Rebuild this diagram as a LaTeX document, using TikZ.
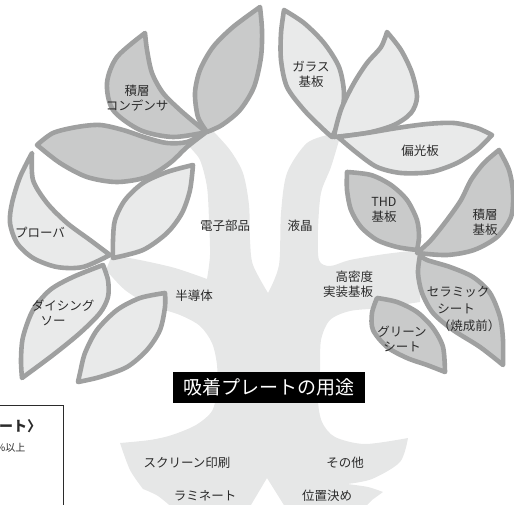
\documentclass[tikz,border=0pt]{standalone}
\usepackage{fontspec}
\setmainfont{Noto Sans CJK JP}
\definecolor{trunkgray}{HTML}{E6E7E7}
\definecolor{leaflight}{HTML}{E9EAEA}
\definecolor{leafdark}{HTML}{C9CACA}
\definecolor{leafedge}{HTML}{9FA0A0}
\definecolor{labelink}{HTML}{2B2B2B}
\begin{document}
\begin{tikzpicture}[x=1pt,y=-1pt,
  leafbase/.style={draw=leafedge, line width=4.6pt, line join=round},
  lightleaf/.style={leafbase, fill=leaflight},
  darkleaf/.style={leafbase, fill=leafdark},
  lbl/.style={text=labelink, align=center, inner sep=0pt,
    font=\fontsize{12.5}{15}\selectfont},
  title/.style={fill=black, text=white, inner sep=0pt,
    minimum width=192pt, minimum height=31pt,
    font=\fontsize{19}{22}\selectfont}]
\useasboundingbox (0,0) rectangle (514,505);
\clip (0,0) rectangle (514,505);

% ---- trunk, branches and roots ----
\fill[trunkgray]
  plot[smooth] coordinates {(213,131) (230,150) (243,173) (249,205) (250,240) (253,265) (268,293)}
  -- plot[smooth] coordinates {(268,293) (279,265) (281,213) (287,173) (307,143) (332,134)}
  -- plot[smooth] coordinates {(340,137) (331,167) (321,193) (318,230) (319,260) (330,266) (350,260) (385,254) (420,250)}
  -- (420,302)
  -- plot[smooth] coordinates {(420,302) (380,308) (350,311) (330,320) (321,340) (320,370) (318,400) (322,422) (335,437) (365,444) (408,438)}
  -- plot[smooth] coordinates {(408,438) (400,462) (372,479) (347,484)}
  -- plot[smooth] coordinates {(347,484) (368,487) (383,492)}
  -- (372,500) -- (362,510) -- (287,510) -- (267,478) -- (248,510) -- (175,510)
  -- plot[smooth] coordinates {(175,510) (158,496) (143,489)}
  -- plot[smooth] coordinates {(143,489) (130,470) (120,443)}
  -- plot[smooth] coordinates {(120,443) (150,440) (172,435) (196,425) (212,411) (217,390) (217,365) (212,343) (200,326) (180,315) (150,305) (125,290) (106,270)}
  -- (112,255)
  -- plot[smooth] coordinates {(112,255) (140,260) (175,268) (207,279)}
  -- plot[smooth] coordinates {(207,279) (210,255) (209,220) (207,187) (200,160) (188,143) (200,132)}
  -- cycle;

% ---- left crown ----
\draw[darkleaf]
  plot[smooth] coordinates {(37,145) (53,133) (77,127) (100,125) (123,130) (147,138) (167,143) (187,142) (205,133)}
  -- plot[smooth] coordinates {(205,133) (187,147) (170,163) (147,177) (117,182) (87,177) (60,163) (37,145)}
  -- cycle;
\draw[darkleaf]
  plot[smooth] coordinates {(145,33) (117,57) (107,83) (113,110) (140,130) (173,137) (207,132)}
  -- plot[smooth] coordinates {(207,132) (200,127) (180,110) (163,93) (152,73) (147,50) (145,33)}
  -- cycle;
\draw[darkleaf]
  plot[smooth] coordinates {(260,7) (233,27) (213,47) (200,70) (195,93) (198,117) (207,132)}
  -- plot[smooth] coordinates {(207,132) (222,125) (240,110) (254,87) (261,57) (262,30) (260,7)}
  -- cycle;

\draw[lightleaf]
  plot[smooth] coordinates {(103,265) (73,277) (50,290) (33,310) (23,337) (21,360) (22,378)}
  -- plot[smooth] coordinates {(22,378) (53,355) (80,333) (100,313) (108,297) (108,280) (103,265)}
  -- cycle;
\draw[lightleaf]
  plot[smooth] coordinates {(32,153) (20,177) (12,203) (10,223) (17,243) (33,258) (57,267) (83,267) (110,255)}
  -- plot[smooth] coordinates {(110,255) (90,240) (67,223) (47,203) (33,180) (32,153)}
  -- cycle;
\draw[lightleaf]
  plot[smooth] coordinates {(193,165) (167,172) (143,183) (125,200) (115,220) (113,240) (113,258)}
  -- plot[smooth] coordinates {(113,258) (143,250) (167,233) (182,213) (190,190) (193,165)}
  -- cycle;
\draw[lightleaf]
  plot[smooth] coordinates {(165,293) (140,298) (117,310) (97,330) (85,353) (80,373) (78,382)}
  -- plot[smooth] coordinates {(78,382) (100,377) (127,367) (147,350) (160,330) (165,307) (165,293)}
  -- cycle;

% ---- right crown ----
\draw[lightleaf]
  plot[smooth] coordinates {(284,10) (281,33) (281,60) (287,87) (304,110) (324,130) (332,137)}
  -- plot[smooth] coordinates {(332,137) (341,117) (344,93) (339,67) (324,43) (304,23) (284,10)}
  -- cycle;
\draw[lightleaf]
  plot[smooth] coordinates {(387,32) (381,47) (367,63) (354,83) (342,107) (336,127) (334,137)}
  -- plot[smooth] coordinates {(334,137) (367,133) (394,125) (411,113) (417,97) (412,73) (401,50) (387,32)}
  -- cycle;
\draw[lightleaf]
  plot[smooth] coordinates {(338,137) (367,133) (397,128) (427,124) (454,123) (477,128) (492,135)}
  -- plot[smooth] coordinates {(492,135) (477,150) (457,163) (431,172) (401,173) (377,167) (357,153) (338,137)}
  -- cycle;

\draw[darkleaf]
  plot[smooth] coordinates {(347,172) (347,190) (351,210) (361,227) (377,240) (397,247) (417,250)}
  -- plot[smooth] coordinates {(417,250) (419,237) (417,220) (407,200) (391,185) (371,175) (347,172)}
  -- cycle;
\draw[darkleaf]
  plot[smooth] coordinates {(499,150) (484,163) (471,180) (461,200) (447,220) (431,240) (417,253)}
  -- plot[smooth] coordinates {(417,253) (447,255) (474,250) (497,237) (511,217) (513,193) (509,170) (499,150)}
  -- cycle;
\draw[darkleaf]
  plot[smooth] coordinates {(420,255) (418,273) (422,293) (433,313) (453,330) (480,347) (503,365)}
  -- plot[smooth] coordinates {(503,365) (503,340) (500,317) (490,293) (473,277) (450,267) (427,260) (420,255)}
  -- cycle;
\draw[darkleaf]
  plot[smooth] coordinates {(377,298) (397,302) (417,312) (433,328) (443,347) (445,372)}
  -- plot[smooth] coordinates {(445,372) (427,365) (407,358) (387,347) (373,330) (372,313) (377,298)}
  -- cycle;

% ---- labels ----
\node[lbl] (capacitor) at (137,98) {積層\\コンデンサ};
\node[lbl] (prober) at (40,233) {プローバ};
\node[lbl] (dicing) at (63,306) {ダイシング};
\node[lbl] (dicingb) at (53,321) {ソー};
\node[lbl] (electronic) at (225,226) {電子部品};
\node[lbl] (liquid) at (300,226) {液晶};
\node[lbl] (semi) at (194,296) {半導体};
\node[lbl] (glass) at (311,74.5) {ガラス\\基板};
\node[lbl] (polar) at (420,151) {偏光板};
\node[lbl] (thd) at (384,209.5) {THD\\基板};
\node[lbl] (multi) at (485,222) {積層\\基板};
\node[lbl, align=right] (hdi) at (348,284) {高密度\\実装基板};
\node[lbl] (ceramic) at (458,292) {セラミック};
\node[lbl] (ceramicb) at (456,309) {シート};
\node[lbl] (ceramicc) at (469,326) {（焼成前）};
\node[lbl] (green) at (402,339) {グリーン\\シート};
\node[lbl] (screen) at (187,463) {スクリーン印刷};
\node[lbl] (laminate) at (205,496) {ラミネート};
\node[lbl] (other) at (345,463) {その他};
\node[lbl] (position) at (327,496) {位置決め};

\node[title] (heading) at (269,387.5) {吸着プレートの用途};

% ---- spec box at the lower left ----
\draw[labelink, line width=0.8pt] (-5,405) -- (63,405) -- (63,515);
\node[anchor=west, inner sep=0pt, text=labelink,
  font=\bfseries\fontsize{14}{16}\selectfont] (spechead) at (-1,426.5) {ート〉};
\node[anchor=west, inner sep=0pt, text=labelink,
  font=\fontsize{10}{12}\selectfont] (specline) at (-4,447.5) {\%以上};
\end{tikzpicture}
\end{document}
